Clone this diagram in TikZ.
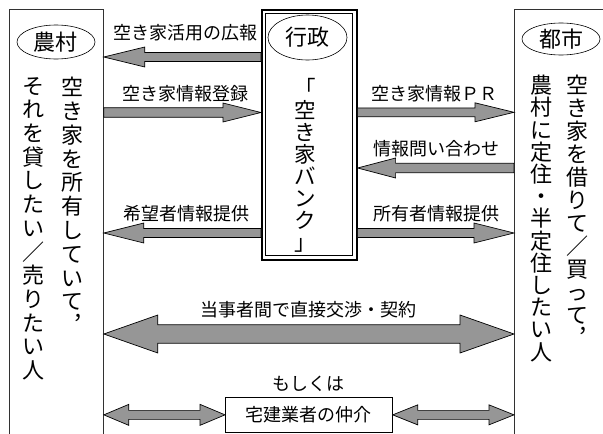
\documentclass[tikz,border=0pt]{standalone}
\usepackage{fontspec}
\setmainfont{Noto Sans CJK JP}
\usetikzlibrary{calc,shapes.geometric}
\definecolor{arwgray}{RGB}{150,150,150}
\definecolor{linegray}{RGB}{50,50,50}
\tikzset{
  fatarw/.style={draw=black, line width=0.7pt, fill=arwgray, line join=miter},
  lbl/.style={font=\fontsize{18}{18}\selectfont, inner sep=0pt},
  vcol/.style={font=\fontsize{22}{23}\selectfont, align=center, anchor=north, inner sep=0pt},
  oval/.style={draw=black, line width=0.6pt, ellipse, inner sep=0pt, font=\fontsize{22}{22}\selectfont},
  area/.style={draw=linegray, line width=0.8pt, inner sep=0pt, anchor=north west},
}
\newcommand\onearrow[5]{% tail, tip, shaft half, head half, head length
  \path[fatarw] let \p1=(#1), \p2=(#2), \p3=($(#2)!#5pt!(#1)$) in
    (\p2) -- (\x3,\y2+#4) -- (\x3,\y2+#3) -- (\x1,\y2+#3) -- (\x1,\y2-#3)
    -- (\x3,\y2-#3) -- (\x3,\y2-#4) -- cycle;}
\newcommand\twoarrow[5]{% left end, right end, shaft half, head half, head length
  \path[fatarw] let \p1=(#1), \p2=(#2) in
    (\p1) -- (\x1+#5,\y1+#4) -- (\x1+#5,\y1+#3) -- (\x2-#5,\y1+#3) -- (\x2-#5,\y1+#4)
    -- (\x2,\y1) -- (\x2-#5,\y1-#4) -- (\x2-#5,\y1-#3) -- (\x1+#5,\y1-#3) -- (\x1+#5,\y1-#4) -- cycle;}
\begin{document}
\begin{tikzpicture}[x=1pt,y=-1pt]
\clip (0,0) rectangle (603,434);
\fill[white] (0,0) rectangle (603,434);

% areas
\node[area, minimum width=94pt, minimum height=450pt] (farm) at (9,9) {};
\node[area, minimum width=110pt, minimum height=450pt] (city) at (514,9) {};
\node[draw=black, line width=1.6pt, minimum width=95pt, minimum height=250pt, anchor=north west, inner sep=0pt] (gov) at (261,9) {};
\node[draw=black, line width=0.8pt, minimum width=87pt, minimum height=242pt, anchor=north west, inner sep=0pt] (govin) at (265,13) {};

% ovals
\node[oval, minimum width=78pt, minimum height=34pt] (farmlbl) at (56,42) {農村};
\node[oval, minimum width=79pt, minimum height=45pt] (govlbl) at (307.5,37.5) {行政};
\node[oval, minimum width=78pt, minimum height=32pt] (citylbl) at (561,39) {都市};

% vertical texts
\node[vcol, font=\fontsize{22}{23.8}\selectfont] (farmA) at (72,77) {空\\き\\家\\を\\所\\有\\し\\て\\い\\て\\︐};
\node[vcol, font=\fontsize{22}{23.7}\selectfont] (farmB) at (33,77) {そ\\れ\\を\\貸\\し\\た\\い\\／\\売\\り\\た\\い\\人};
\node[vcol] (cityA) at (577,75) {空\\き\\家\\を\\借\\り\\て\\／\\買\\っ\\て\\︐};
\node[vcol, font=\fontsize{22}{22.2}\selectfont] (cityB) at (541,75) {農\\村\\に\\定\\住\\・\\半\\定\\住\\し\\た\\い\\人};
\node[vcol, font=\fontsize{21.5}{22}\selectfont] (bank) at (305,78) {「\\空\\き\\家\\バ\\ン\\ク\\」};

% labels
\node[lbl] (l1) at (185,33) {空き家活用の広報};
\node[lbl] (l2) at (185,94) {空き家情報登録};
\node[lbl] (l3) at (434,94) {空き家情報ＰＲ};
\node[lbl] (l4) at (436,148.5) {情報問い合わせ};
\node[lbl] (l5) at (186,214) {希望者情報提供};
\node[lbl] (l6) at (436,214) {所有者情報提供};
\node[lbl] (l7) at (308,310) {当事者間で直接交渉・契約};
\node[lbl] (l8) at (308,384) {もしくは};

% broker box
\node[draw=black, line width=0.7pt, minimum width=167pt, minimum height=35pt, anchor=north west, inner sep=0pt, font=\fontsize{18}{18}\selectfont] (broker) at (225,397) {宅建業者の仲介};

% levels
\coordinate (y1) at (0,57);
\coordinate (y2) at (0,112.5);
\coordinate (y3) at (0,112.3);
\coordinate (y4) at (0,168);
\coordinate (y5) at (0,233);
\coordinate (y7) at (0,334);

\coordinate (a1s) at (gov.west |- y1);  \coordinate (a1e) at (farm.east |- y1);
\coordinate (a2s) at (farm.east |- y2); \coordinate (a2e) at (gov.west |- y2);
\coordinate (a3s) at (gov.east |- y3);  \coordinate (a3e) at (city.west |- y3);
\coordinate (a4s) at (city.west |- y4); \coordinate (a4e) at (gov.east |- y4);
\coordinate (a5s) at (gov.west |- y5);  \coordinate (a5e) at (farm.east |- y5);
\coordinate (a6s) at (gov.east |- y5);  \coordinate (a6e) at (city.west |- y5);
\coordinate (a7s) at (farm.east |- y7); \coordinate (a7e) at (city.west |- y7);
\coordinate (a8s) at (farm.east |- broker.west);
\coordinate (a9e) at (city.west |- broker.east);

\onearrow{a1s}{a1e}{4.5}{10}{41}
\onearrow{a2s}{a2e}{4.8}{9.5}{38}
\onearrow{a3s}{a3e}{4.4}{9.5}{39}
\onearrow{a4s}{a4e}{4.7}{10}{38}
\onearrow{a5s}{a5e}{4.5}{10}{40}
\onearrow{a6s}{a6e}{4.5}{10}{40}
\twoarrow{a7s}{a7e}{9.2}{19}{54}
\twoarrow{a8s}{broker.west}{4.5}{10.5}{25}
\twoarrow{broker.east}{a9e}{4.5}{10}{25}
\end{tikzpicture}
\end{document}
